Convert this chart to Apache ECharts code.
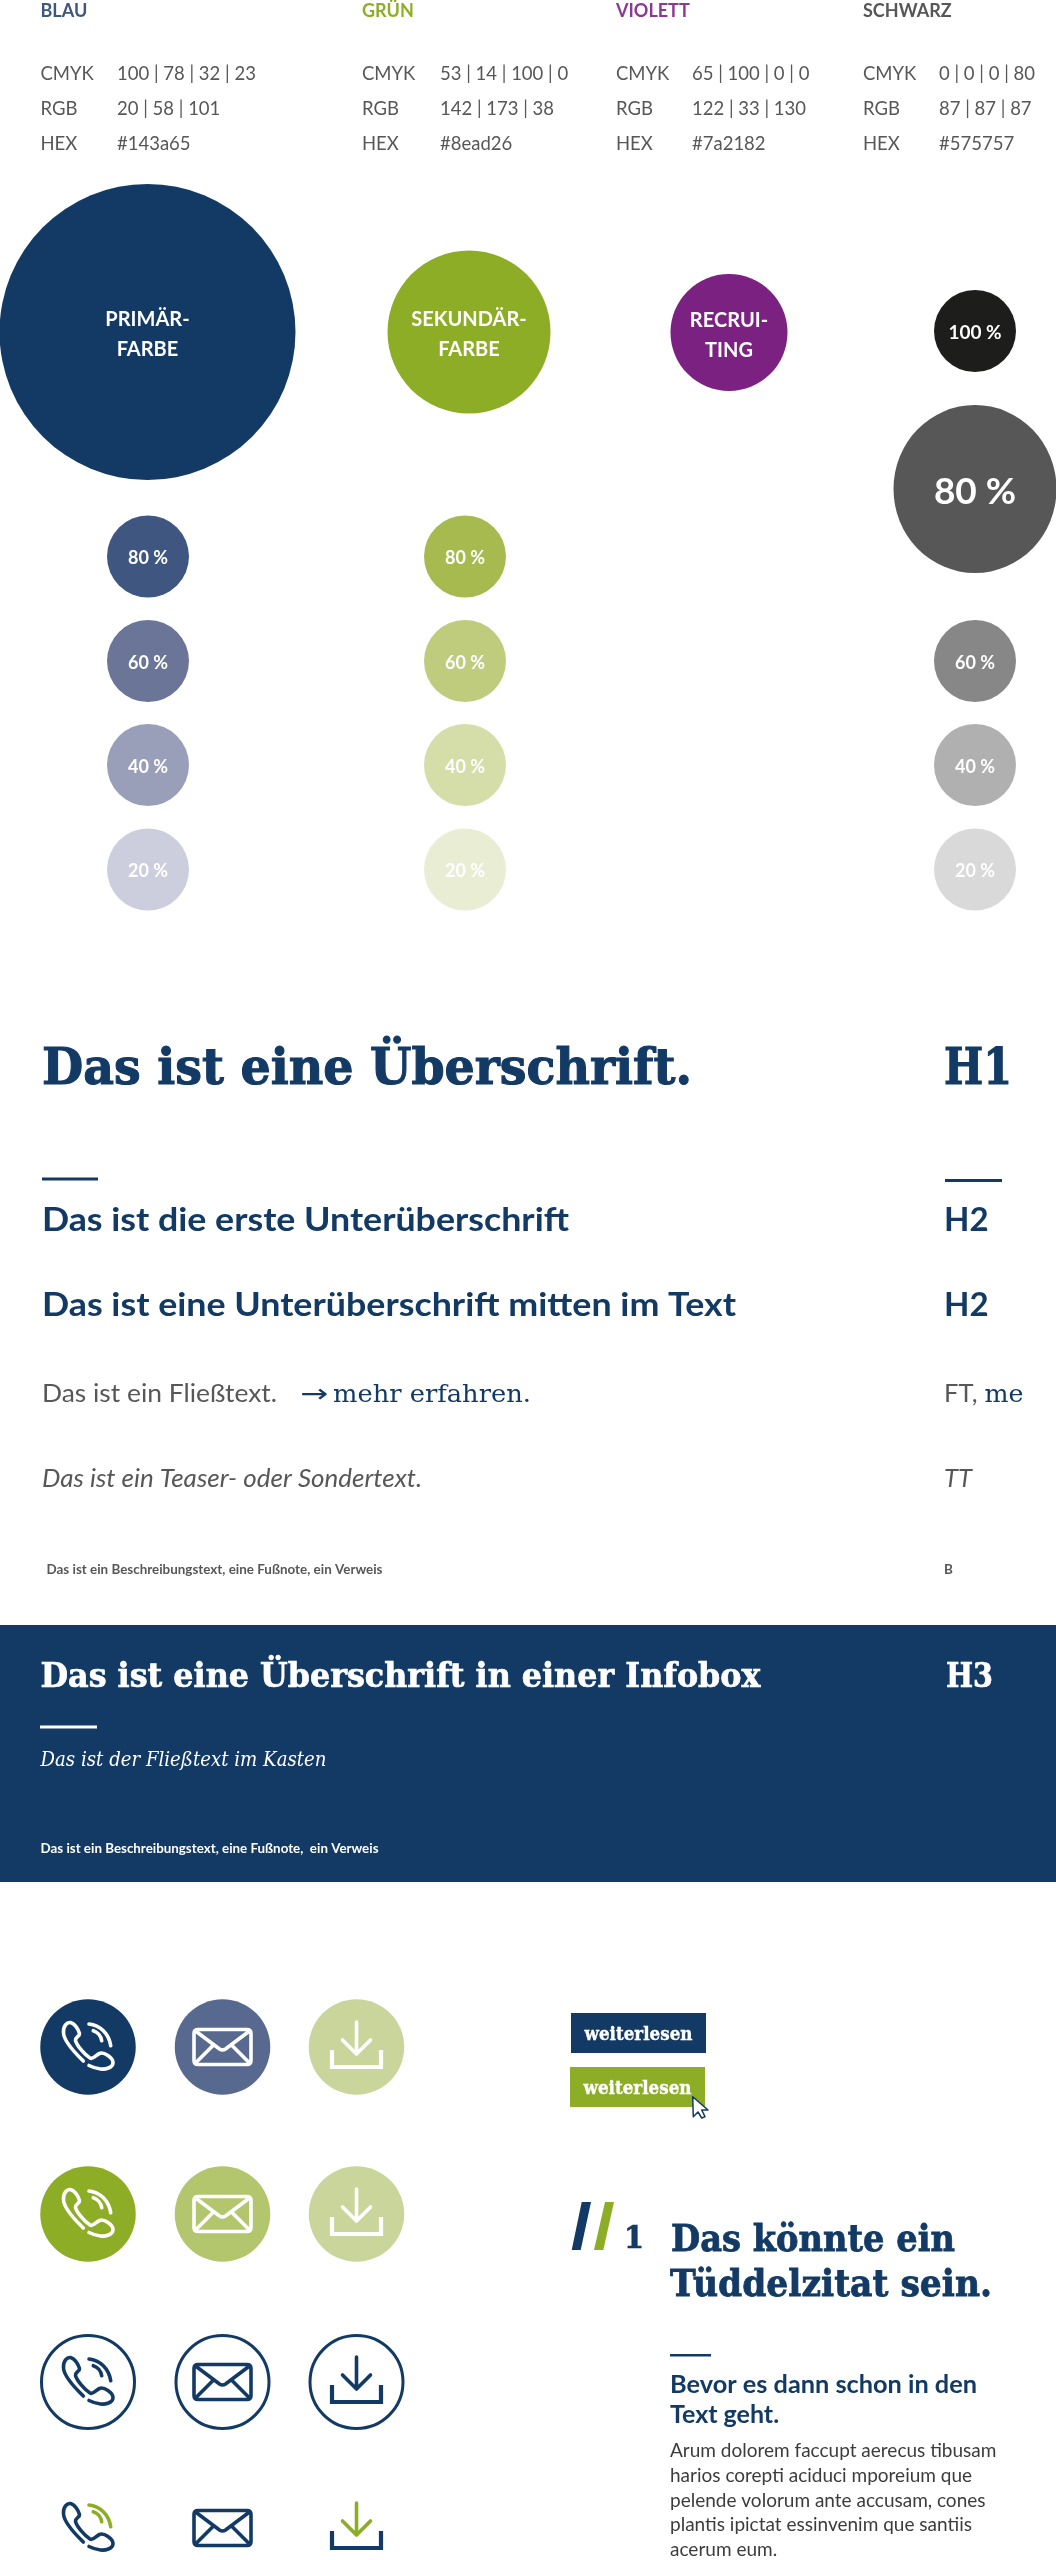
<!DOCTYPE html>
<html lang="de">
<head>
<meta charset="UTF-8">
<title>Styleguide</title>
<script src="https://cdn.jsdelivr.net/npm/echarts@6/dist/echarts.min.js"></script>
<style>
  html, body { margin: 0; padding: 0; background: #fff; }
  #chart { width: 1056px; height: 2560px; }
</style>
</head>
<body>
<div id="chart"></div>
<script>
// --- data ---
var groupNames = ['BLAU', 'GRÜN', 'VIOLETT', 'SCHWARZ'];
var specNames = ['CMYK', 'RGB', 'HEX'];
var cmykValues = [[100, 78, 32, 23], [53, 14, 100, 0], [65, 100, 0, 0], [0, 0, 0, 80]];
var rgbValues = [[20, 58, 101], [142, 173, 38], [122, 33, 130], [87, 87, 87]];
var hexValues = ['#143a65', '#8ead26', '#7a2182', '#575757'];
var mainLabels = ['PRIMÄR-\nFARBE', 'SEKUNDÄR-\nFARBE', 'RECRUI-\nTING', '100 %', '80 %'];
var tintLabels = ['80 %', '60 %', '40 %', '20 %'];
var greyTintLabels = ['60 %', '40 %', '20 %'];
var textH1 = 'Das ist eine Überschrift.';
var textH2a = 'Das ist die erste Unterüberschrift';
var textH2b = 'Das ist eine Unterüberschrift mitten im Text';
var textFT = 'Das ist ein Fließtext.';
var textMore = 'mehr erfahren.';
var textTT = 'Das ist ein Teaser- oder Sondertext.';
var textB = 'Das ist ein Beschreibungstext, eine Fußnote, ein Verweis';
var textH3 = 'Das ist eine Überschrift in einer Infobox';
var textBox = 'Das ist der Fließtext im Kasten';
var textBoxB = 'Das ist ein Beschreibungstext, eine Fußnote,  ein Verweis';
var buttonLabel = 'weiterlesen';
var quoteLines = ['Das könnte ein', 'Tüddelzitat sein.'];
var subLines = ['Bevor es dann schon in den', 'Text geht.'];
var bodyLines = [
  'Arum dolorem faccupt aerecus tibusam',
  'harios corepti aciduci mporeium que',
  'pelende volorum ante accusam, cones',
  'plantis ipictat essinvenim que santiis',
  'acerum eum.'
];

// --- colours ---
var BLUE = '#133a65', GREEN = '#8ead26', TEXT = '#575757';
var blueTints = ['#3f5680', '#6b7598', '#9a9fb9', '#cccedd'];
var greenTints = ['#a6ba50', '#bfcc7e', '#d5dda9', '#e8edd4'];
var greyTints = ['#878787', '#b0b0b0', '#d9d9d9'];

var LATO = 'Lato, "Noto Sans", sans-serif';
var SLAB = '"DejaVu Serif", serif';

// --- icons, drawn around 0,0 ---
var phoneBody = 'M-4.7,14 C-14,5 -24,-6 -24.5,-14 C-25,-21 -21,-25 -17.5,-24.5 C-13,-23.5 -9.5,-17 -8.5,-13.5 C-8,-10.5 -13,-10 -12.5,-6.5 C-11,-1 -3,8 2,11 C5,13 8,8 11.5,6.5 C16,4.5 25,11 25,15.5 C25,21 17,22.5 12.5,22 C8,21.5 4,20 1,18.5';
var phoneWaves = 'M1,-23 C12,-22 21,-13 22.7,-1.3 M5.3,-16.3 C9.5,-15 13,-11 13.7,-6.3';
var mailBody = 'M-24.5,-17.5 L24.5,-17.5 Q28.5,-17.5 28.5,-13.5 L28.5,13.5 Q28.5,17.5 24.5,17.5 L-24.5,17.5 Q-28.5,17.5 -28.5,13.5 L-28.5,-13.5 Q-28.5,-17.5 -24.5,-17.5 Z M-27,-16 L-3,2 Q0,4 3,2 L27,-16 M-27,16 L-9,-2 M27,16 L9,-2';
var loadArrow = 'M0,-25 L0,7 M-14,-7 L0,7 L14,-7';
var loadTray = 'M-24.5,3 L-24.5,20 L24.5,20 L24.5,3';

// columns and rows of the icon table
var iconCols = [88, 222.5, 356.5];
var iconRows = [2047, 2214, 2382, 2528];
var iconParts = [[phoneBody, phoneWaves], [mailBody], [loadTray, loadArrow]];
var iconDiscs = [
  [BLUE, '#586990', '#c9d59b'],
  [GREEN, '#b3c56d', '#c9d59b']
];

var measure = document.createElement('canvas').getContext('2d');
measure.textBaseline = 'middle';

// text helper: x,y = left end of the alphabetic baseline, width = width the text has to fill
function txt(text, x, y, font, fill, width) {
  measure.font = font;
  var m = measure.measureText(text);
  var el = {
    type: 'text',
    x: x,
    y: y - Math.abs(m.alphabeticBaseline),
    style: { text: text, x: 0, y: 0, font: font, fill: fill, align: 'left', verticalAlign: 'middle' }
  };
  if (width) {
    el.scaleX = width / m.width;
  }
  // the slab face is thinner than the one in the picture, thicken the bold cuts a bit
  if (font.indexOf('700') === 0 && font.indexOf('DejaVu Serif') > 0) {
    el.style.stroke = fill;
    el.style.lineWidth = parseFloat(font.slice(4)) * 0.022;
  }
  return el;
}
function bar(x, y, w, h, fill) {
  return { type: 'rect', shape: { x: x, y: y, width: w, height: h }, style: { fill: fill } };
}
function poly(points, fill, stroke) {
  return { type: 'polygon', shape: { points: points }, style: { fill: fill, stroke: stroke || null, lineWidth: stroke ? 1.5 : 0, lineJoin: 'round' } };
}

// --- colour table at the top ---
var graphics = [];
var headX = [40.5, 362, 616, 863];
var headColors = ['#3f5680', '#8ead26', '#8a3a92', '#575757'];
var valueX = [117, 440, 692, 939];
var specY = [79.5, 114.5, 149.5];
groupNames.forEach(function(name, i) {
  graphics.push(txt(name, headX[i], 16.5, '700 18px ' + LATO, headColors[i]));
  specNames.forEach(function(spec, r) {
    graphics.push(txt(spec, headX[i], specY[r], '400 18.5px ' + LATO, TEXT));
  });
  graphics.push(txt(cmykValues[i].join(' | '), valueX[i], specY[0], '400 18.5px ' + LATO, TEXT));
  graphics.push(txt(rgbValues[i].join(' | '), valueX[i], specY[1], '400 18.5px ' + LATO, TEXT));
  graphics.push(txt(hexValues[i], valueX[i], specY[2], '400 18.5px ' + LATO, TEXT));
});

// --- type samples ---
var RIGHT = 944;
graphics.push(
  txt(textH1, 42, 1084, '700 50px ' + SLAB, BLUE, 650),
  txt('H1', RIGHT, 1084, '700 50px ' + SLAB, BLUE, 68),
  bar(42, 1177.5, 56, 3, BLUE),
  bar(945, 1179, 57, 3, BLUE),
  txt(textH2a, 42, 1231, '700 33px ' + LATO, BLUE, 527),
  txt('H2', RIGHT, 1231, '700 33px ' + LATO, BLUE),
  txt(textH2b, 42, 1316, '700 33px ' + LATO, BLUE, 694),
  txt('H2', RIGHT, 1316, '700 33px ' + LATO, BLUE),
  txt(textFT, 42, 1402, '400 25.5px ' + LATO, TEXT, 235),
  txt('→', 300, 1402, '400 25px "DejaVu Sans"', BLUE, 28),
  txt(textMore, 333, 1402, '400 25px ' + SLAB, BLUE, 198),
  txt('FT,', RIGHT, 1402, '400 25.5px ' + LATO, TEXT),
  txt('me', 984.5, 1402, '400 25px ' + SLAB, BLUE, 39),
  txt(textTT, 42, 1487, 'italic 400 25.5px ' + LATO, TEXT, 380),
  txt('TT', RIGHT, 1487, 'italic 400 25.5px ' + LATO, TEXT),
  txt(textB, 46.5, 1573.5, '700 13.5px ' + LATO, TEXT, 336),
  txt('B', RIGHT, 1573.5, '700 13.5px ' + LATO, TEXT)
);

// --- infobox ---
graphics.push(
  bar(0, 1625, 1056, 257, BLUE),
  txt(textH3, 40.5, 1687, '700 33px ' + SLAB, '#fff', 720),
  txt('H3', 946, 1687, '700 33px ' + SLAB, '#fff', 47),
  bar(40, 1725.5, 57, 3, '#fff'),
  txt(textBox, 40.5, 1766, 'italic 400 20px ' + SLAB, '#fff', 286),
  txt(textBoxB, 40.5, 1852.5, '700 13.5px ' + LATO, '#fff', 338)
);

// --- buttons, cursor, quote ---
graphics.push(
  bar(571, 2013, 135, 40, BLUE),
  txt(buttonLabel, 584.5, 2040, '700 19px ' + SLAB, '#fff', 108),
  bar(570, 2067, 135, 40, GREEN),
  txt(buttonLabel, 583.5, 2094, '700 19px ' + SLAB, '#fff', 108),
  poly([[692.7, 2096.7], [708, 2110], [701.7, 2110], [705, 2116.7], [701.7, 2118], [698, 2112], [693.3, 2116.7]], '#fff', BLUE),
  poly([[571.7, 2250], [580.7, 2250], [591, 2202], [581.7, 2202]], BLUE),
  poly([[594, 2250], [603.3, 2250], [614, 2202], [605, 2202]], GREEN),
  txt('1', 624, 2248, '700 32px ' + SLAB, BLUE, 20),
  txt(quoteLines[0], 671, 2251, '700 37px ' + SLAB, BLUE, 284),
  txt(quoteLines[1], 670, 2296, '700 37px ' + SLAB, BLUE, 322),
  bar(670, 2354, 41, 2.5, BLUE),
  txt(subLines[0], 670, 2393, '700 25px ' + LATO, BLUE, 307),
  txt(subLines[1], 670, 2423, '700 25px ' + LATO, BLUE)
);
var bodyY = [2457, 2482, 2507, 2531, 2556];
bodyLines.forEach(function(line, i) {
  graphics.push(txt(line, 670, bodyY[i], '400 19px ' + LATO, '#3c3c3c'));
});

// --- swatches ---
function swatch(x, y, d, color, label, size, lineH, dy) {
  return {
    value: [x, y],
    symbolSize: d,
    itemStyle: { color: color },
    label: {
      show: true, position: 'inside', formatter: label, color: '#fff', offset: [0, dy],
      fontFamily: LATO, fontSize: size, fontWeight: 700, lineHeight: lineH, align: 'center'
    }
  };
}
var swatches = [
  swatch(147.5, 332, 296, BLUE, mainLabels[0], 20, 30, 3),
  swatch(469, 332, 163, GREEN, mainLabels[1], 20, 30, 3),
  swatch(729, 332.5, 117, hexValues[2], mainLabels[2], 20, 30, 3),
  swatch(975, 331, 82, '#1d1d1b', mainLabels[3], 19, 20, 2),
  swatch(975, 489, [163, 168], hexValues[3], mainLabels[4], 37, 40, 3)
];
var tintY = [556.5, 661, 765, 869.5];
tintLabels.forEach(function(label, i) {
  swatches.push(swatch(148, tintY[i], 82, blueTints[i], label, 18, 20, 2));
  swatches.push(swatch(465, tintY[i], 82, greenTints[i], label, 18, 20, 2));
});
greyTintLabels.forEach(function(label, i) {
  swatches.push(swatch(975, tintY[i + 1], 82, greyTints[i], label, 18, 20, 2));
});

// discs under the icons
var discs = [];
iconCols.forEach(function(x, c) {
  iconDiscs.forEach(function(row, r) {
    discs.push({ value: [x, iconRows[r]], symbolSize: 95.5, itemStyle: { color: row[c] } });
  });
  discs.push({ value: [x, iconRows[2]], symbolSize: 93, itemStyle: { color: '#fff', borderColor: BLUE, borderWidth: 3 } });
});

// icon cells: x, y, icon, row
var iconCells = [];
iconRows.forEach(function(y, r) {
  iconCols.forEach(function(x, c) {
    iconCells.push([x, y, c, r]);
  });
});

function renderIcon(params, api) {
  var p = api.coord([api.value(0), api.value(1)]);
  var kind = api.value(2), row = api.value(3);
  var line = row < 2 ? '#fff' : BLUE;
  var children = iconParts[kind].map(function(d, i) {
    var color = line;
    if (row === 3 && i === 1 && kind !== 1) {
      color = GREEN;
    }
    var isTray = kind === 2 && i === 0;
    return {
      type: 'path',
      x: p[0],
      y: p[1],
      shape: { pathData: d },
      style: { fill: 'none', stroke: color, lineWidth: isTray ? 4.2 : 3.6, lineCap: isTray ? 'butt' : 'round', lineJoin: isTray ? 'miter' : 'round' }
    };
  });
  return { type: 'group', children: children };
}

var chart = echarts.init(document.getElementById('chart'));
chart.setOption({
  animation: false,
  backgroundColor: '#fff',
  grid: { left: 0, right: 0, top: 0, bottom: 0 },
  xAxis: { type: 'value', min: 0, max: 1056, show: false },
  yAxis: { type: 'value', min: 0, max: 2560, inverse: true, show: false },
  graphic: { elements: graphics },
  series: [
    { name: 'Farben', type: 'scatter', symbol: 'circle', data: swatches, silent: true, itemStyle: { opacity: 1 } },
    { name: 'Icon-Flächen', type: 'scatter', symbol: 'circle', data: discs, silent: true, itemStyle: { opacity: 1 } },
    { name: 'Icons', type: 'custom', renderItem: renderIcon, data: iconCells, silent: true, z: 5, clip: false }
  ]
});
</script>
</body>
</html>
